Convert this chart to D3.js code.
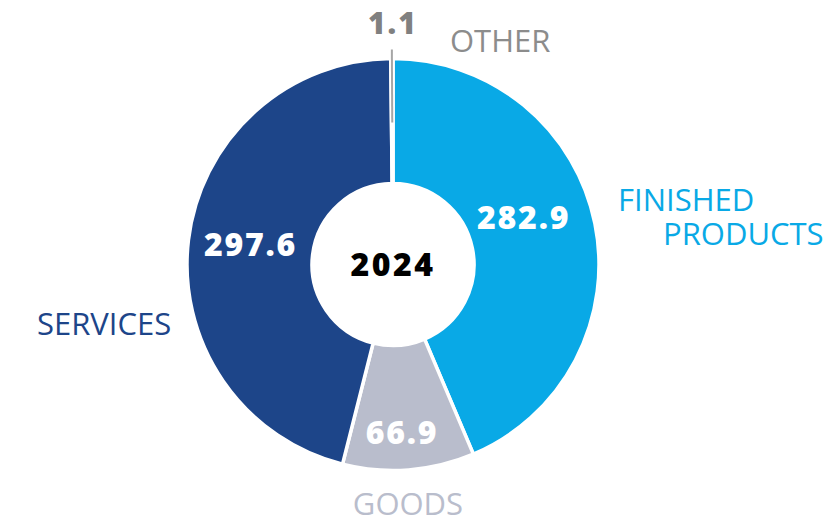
<!DOCTYPE html>
<html>
<head>
<meta charset="utf-8">
<script src="https://cdn.jsdelivr.net/npm/d3@7"></script>
<style>
  html, body { margin: 0; padding: 0; background: #fff; }
  svg { display: block; }
</style>
</head>
<body>
<svg id="chart" width="838" height="519"></svg>
<script>
// Revenue split by category, 2024
const categories = ["FINISHED PRODUCTS", "GOODS", "SERVICES", "OTHER"];
const values = [282.9, 66.9, 297.6, 1.1];
const valueLabels = ["282.9", "66.9", "297.6", "1.1"];
const yearLabel = "2024";

const colors = ["#09a9e6", "#b9bdcc", "#1d4589", "#a6a6a6"];

const width = 838, height = 519;
const cx = 393, cy = 264.5;
const outerR = 206, innerR = 81;

const svg = d3.select("#chart");
const g = svg.append("g").attr("transform", `translate(${cx},${cy})`);

const pie = d3.pie().sort(null).value(d => d.value)
  .startAngle(0).endAngle(2 * Math.PI);
const data = categories.map((c, i) => ({ name: c, value: values[i], label: valueLabels[i], color: colors[i] }));
const arcs = pie(data);

const arc = d3.arc().innerRadius(innerR).outerRadius(outerR);

g.selectAll("path.slice")
  .data(arcs)
  .join("path")
  .attr("class", "slice")
  .attr("d", arc)
  .attr("fill", d => d.data.color)
  .attr("stroke", "#fff")
  .attr("stroke-width", 3.5)
  .attr("stroke-linejoin", "miter");

// Value labels inside the ring, placed around each slice centroid
const valueNudge = [
  { dx: -10, dy: -7 },   // finished products
  { dx: -2, dy: 36 },    // goods
  { dx: 0, dy: 8 },      // services
];
const numFont = "'Open Sans', sans-serif";
arcs.slice(0, 3).forEach((a, i) => {
  const [x, y] = arc.centroid(a);
  g.append("text")
    .attr("x", x + valueNudge[i].dx)
    .attr("y", y + valueNudge[i].dy)
    .attr("text-anchor", "middle")
    .attr("font-family", numFont)
    .attr("font-weight", 800)
    .attr("font-size", 32)
    .attr("letter-spacing", 1.8)
    .attr("fill", "#fff")
    .text(a.data.label);
});

// Small "other" slice: leader line up to its value
const other = arcs[3];
const midA = (other.startAngle + other.endAngle) / 2;
const r0 = 142, r1 = 215;
g.append("line")
  .attr("x1", r0 * Math.sin(midA)).attr("y1", -r0 * Math.cos(midA))
  .attr("x2", r1 * Math.sin(midA)).attr("y2", -r1 * Math.cos(midA))
  .attr("stroke", "#a6a6a6")
  .attr("stroke-width", 2);
g.append("text")
  .attr("x", r1 * Math.sin(midA) + 1)
  .attr("y", -r1 * Math.cos(midA) - 16)
  .attr("text-anchor", "middle")
  .attr("font-family", numFont)
  .attr("font-weight", 800)
  .attr("font-size", 30)
  .attr("letter-spacing", 2)
  .attr("fill", "#808080")
  .text(other.data.label);

// Centre year
g.append("text")
  .attr("x", 0).attr("y", 11)
  .attr("text-anchor", "middle")
  .attr("font-family", numFont)
  .attr("font-weight", 800)
  .attr("font-size", 32)
  .attr("letter-spacing", 2.5)
  .attr("fill", "#000")
  .text(yearLabel);

// Category names around the ring
const catFont = "'Open Sans', sans-serif";
const catLabels = [
  { lines: ["FINISHED", "PRODUCTS"], x: [618, 663], y: [211, 245], anchor: "start", color: colors[0] },
  { lines: ["GOODS"], x: [408], y: [515], anchor: "middle", color: colors[1] },
  { lines: ["SERVICES"], x: [37], y: [335], anchor: "start", color: colors[2] },
  { lines: ["OTHER"], x: [450], y: [52], anchor: "start", color: "#8c8c8c" },
];
catLabels.forEach(l => {
  l.lines.forEach((t, j) => {
    svg.append("text")
      .attr("x", l.x[j]).attr("y", l.y[j])
      .attr("text-anchor", l.anchor)
      .attr("font-family", catFont)
      .attr("font-size", 31)
      .attr("fill", l.color)
      .text(t);
  });
});
</script>
</body>
</html>
